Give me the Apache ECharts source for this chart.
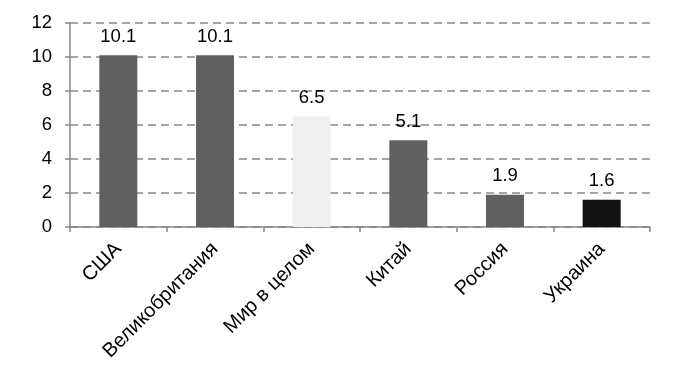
<!DOCTYPE html>
<html><head><meta charset="utf-8">
<script src="https://cdn.jsdelivr.net/npm/echarts@6/dist/echarts.min.js"></script>
<style>html,body{margin:0;padding:0;background:#fff}#c{width:686px;height:380px}</style>
</head><body><div id="c"></div>
<script>
const categories = ['США', 'Великобритания', 'Мир в целом', 'Китай', 'Россия', 'Украина'];
const values = [10.1, 10.1, 6.5, 5.1, 1.9, 1.6];
const barColors = ['#606060', '#606060', '#f0f0f0', '#606060', '#606060', '#111111'];
const yTicks = [0, 2, 4, 6, 8, 10, 12];

const chart = echarts.init(document.getElementById('c'), null, {renderer: 'canvas'});
const font = 'Liberation Sans, Arial, sans-serif';
chart.setOption({
  animation: false,
  grid: {left: 70, right: 36, top: 23, bottom: 153},
  xAxis: {
    type: 'category', data: categories,
    axisLine: {lineStyle: {color: '#888', width: 1.5}},
    axisTick: {show: true, length: 5, lineStyle: {color: '#888', width: 1.5}},
    axisLabel: {rotate: 45, color: '#000', fontSize: 20, fontFamily: font, margin: 19, interval: 0}
  },
  yAxis: {
    type: 'value', min: yTicks[0], max: yTicks[yTicks.length - 1], interval: 2,
    axisLine: {show: true, lineStyle: {color: '#888', width: 1.5}},
    axisTick: {show: true, length: 5, lineStyle: {color: '#888', width: 1.5}},
    axisLabel: {color: '#000', fontSize: 18.5, fontFamily: font, margin: 18},
    splitLine: {lineStyle: {color: '#888', width: 1.5, type: [8, 5]}}
  },
  series: [{
    type: 'bar', barWidth: 38,
    data: values.map((v, i) => ({value: v, itemStyle: {color: barColors[i]}})),
    label: {show: true, position: 'top', distance: 9, color: '#000', fontSize: 18.5, fontFamily: font}
  }]
});
</script></body></html>
